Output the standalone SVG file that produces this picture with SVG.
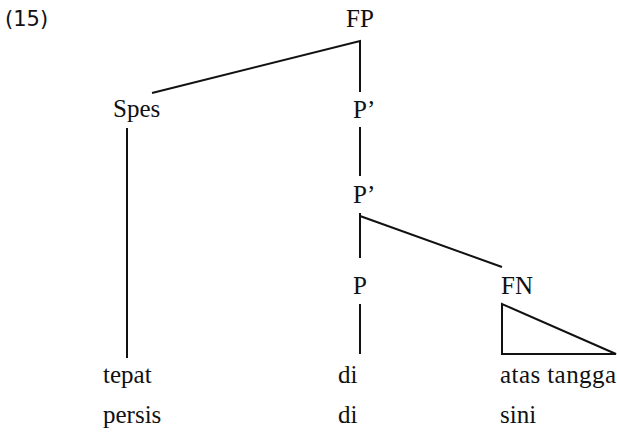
<svg xmlns="http://www.w3.org/2000/svg" width="617" height="436" viewBox="0 0 617 436">
<style>
.t{font-family:"Times New Roman","Liberation Serif",Tinos,serif;font-size:25px;fill:#111}
.num{font-family:"DejaVu Sans",sans-serif;font-size:21px;fill:#111}
.e{stroke:#111;stroke-width:2;fill:none}
</style>
<rect width="617" height="436" fill="#fff"/>
<text class="num" x="5" y="26">(15)</text>
<g id="FP"><text class="t" x="346" y="27">FP</text></g>
<g id="Spes"><text class="t" x="113" y="117">Spes</text></g>
<g id="P1"><text class="t" x="353" y="118">P’</text></g>
<g id="P2"><text class="t" x="353" y="203">P’</text></g>
<g id="P"><text class="t" x="353" y="294">P</text></g>
<g id="FN"><text class="t" x="501" y="294">FN</text></g>
<g id="tepat"><text class="t" x="103" y="383">tepat</text></g>
<g id="di1"><text class="t" x="338" y="383">di</text></g>
<g id="atas"><text class="t" x="500" y="383" textLength="116">atas tangga</text></g>
<g id="persis"><text class="t" x="103" y="423">persis</text></g>
<g id="di2"><text class="t" x="338" y="423">di</text></g>
<g id="sini"><text class="t" x="500" y="423">sini</text></g>
<g id="connectors" class="e">
<path d="M152,93 L360,41 L360,92"/>
<path d="M360,127 L360,176"/>
<path d="M360,213 L360,258 M360,216 L502,267"/>
<path d="M127,128 L127,358"/>
<path d="M360,304 L360,354"/>
<path d="M502,304 L502,354 L616,354 Z"/>
</g>
</svg>
